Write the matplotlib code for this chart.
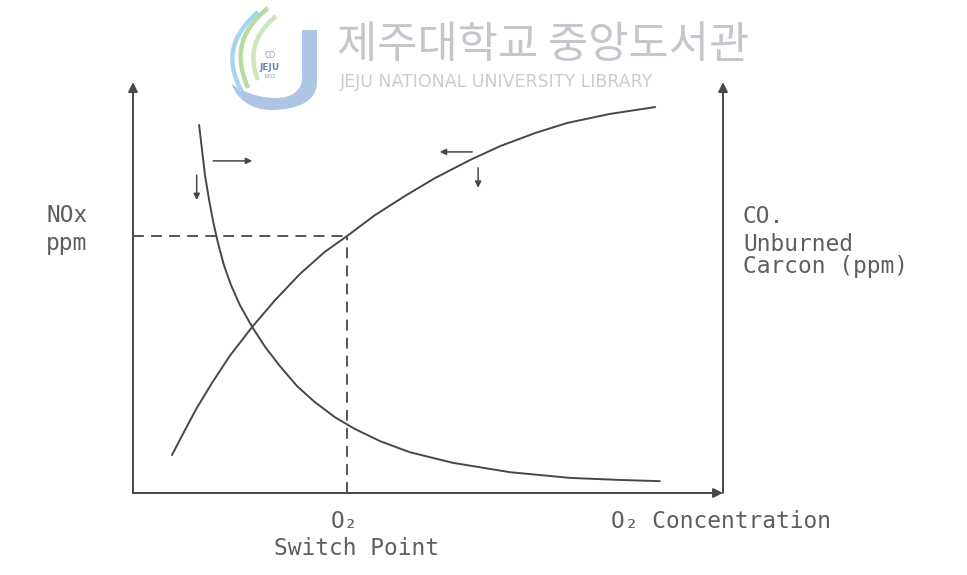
"""Sketch of NOx / CO trade-off against O2 with the O2 switch point."""

import matplotlib

matplotlib.use("Agg")
import matplotlib.pyplot as plt
from matplotlib.patches import PathPatch
from matplotlib.path import Path

W, H = 967, 575

# NOx rises with O2 (axis units, 0..10 on both scales)
nox_o2 = [0.66, 0.88, 1.08, 1.34, 1.64, 2.02, 2.41, 2.83, 3.25, 3.63, 4.10, 4.61,
          5.12, 5.71, 6.22, 6.81, 7.36, 8.08, 8.85]
nox_ppm = [0.93, 1.54, 2.08, 2.70, 3.36, 4.07, 4.73, 5.37, 5.91, 6.30, 6.81, 7.28,
           7.72, 8.16, 8.50, 8.82, 9.07, 9.29, 9.46]

# CO / unburned carbon falls with O2
co_o2 = [1.12, 1.17, 1.22, 1.29, 1.36, 1.44, 1.54, 1.66, 1.81, 2.02, 2.24, 2.49,
         2.78, 3.08, 3.42, 3.76, 4.19, 4.69, 5.42, 6.39, 7.41, 8.25, 8.93]
co_ppm = [9.02, 8.41, 7.79, 7.18, 6.64, 6.13, 5.59, 5.10, 4.61, 4.07, 3.58, 3.11,
          2.62, 2.23, 1.86, 1.57, 1.27, 1.00, 0.74, 0.51, 0.37, 0.32, 0.29]

switch_o2 = 3.63
switch_nox = 6.30

# little direction arrows drawn next to the curves: (x0, y0, x1, y1)
hint_arrows = [
    (1.36, 8.14, 2.02, 8.14),
    (1.08, 7.79, 1.08, 7.18),
    (5.75, 8.36, 5.20, 8.36),
    (5.85, 7.97, 5.85, 7.48),
]

INK = "#474747"
TEXT = "#5e5e5e"
MONO = ["DejaVu Sans Mono", "DejaVu Sans"]


def px(x, y):
    return x / W, 1 - y / H


def draw_logo(fig):
    lay = fig.add_axes([0, 0, 1, 1], zorder=-1)
    lay.set_xlim(0, W)
    lay.set_ylim(H, 0)
    lay.axis("off")
    blue = Path(
        [(302, 30), (317, 30), (317, 82), (317, 104), (292, 110), (272, 110),
         (250, 110), (236, 98), (232, 84), (246, 94), (262, 98), (276, 98),
         (292, 98), (302, 90), (302, 78), (302, 30)],
        [Path.MOVETO, Path.LINETO, Path.LINETO, Path.CURVE4, Path.CURVE4, Path.CURVE4,
         Path.CURVE4, Path.CURVE4, Path.CURVE4, Path.CURVE4, Path.CURVE4, Path.CURVE4,
         Path.CURVE4, Path.CURVE4, Path.CURVE4, Path.CLOSEPOLY],
    )
    lay.add_patch(PathPatch(blue, fc="#aec6e6", ec="none"))
    for pts, col in [
        ([(268, 8), (236, 34), (236, 60), (248, 88)], "#b9dba0"),
        ([(258, 12), (226, 40), (228, 66), (242, 92)], "#a6d6ef"),
        ([(276, 16), (250, 38), (250, 60), (258, 80)], "#cfe6bd"),
    ]:
        path = Path(pts, [Path.MOVETO, Path.CURVE4, Path.CURVE4, Path.CURVE4])
        lay.add_patch(PathPatch(path, fc="none", ec=col, lw=3.2))
    lay.text(270, 55, "CO", ha="center", va="center", fontsize=5.5, color="#8aa0c4")
    lay.text(270, 67, "JEJU", ha="center", va="center", fontsize=6.5,
             fontweight="bold", color="#6f86b0")
    lay.text(270, 77, "1952", ha="center", va="center", fontsize=3.5, color="#8aa0c4")
    lay.text(337, 45, "제주대학교 중앙도서관", ha="left", va="center", fontsize=31.5,
             color="#c3c6cb", family=["Noto Sans CJK KR", "DejaVu Sans"])
    lay.text(340, 82, "JEJU NATIONAL UNIVERSITY LIBRARY", ha="left", va="center",
             fontsize=12.5, color="#c9ccd0")


def main():
    fig = plt.figure(figsize=(W / 100, H / 100), dpi=100)
    draw_logo(fig)

    ax = fig.add_axes([133 / W, (H - 493) / H, 590 / W, 408 / H])
    ax.set_xlim(0, 10)
    ax.set_ylim(0, 10)
    ax.axis("off")

    axis_style = dict(arrowstyle="-|>", color=INK, lw=1.4, shrinkA=0, shrinkB=0,
                      mutation_scale=14)
    ax.annotate("", xy=(0, 10.07), xytext=(0, 0), arrowprops=axis_style,
                annotation_clip=False)
    ax.annotate("", xy=(10, 10.07), xytext=(10, 0), arrowprops=axis_style,
                annotation_clip=False)
    ax.annotate("", xy=(10, 0), xytext=(0, 0), arrowprops=axis_style,
                annotation_clip=False)

    ax.plot(nox_o2, nox_ppm, color=INK, lw=1.4, solid_capstyle="round",
            solid_joinstyle="round")
    ax.plot(co_o2, co_ppm, color=INK, lw=1.4, solid_capstyle="round",
            solid_joinstyle="round")

    ax.plot([0, switch_o2], [switch_nox, switch_nox], color=INK, lw=1.3, dashes=(6, 4))
    ax.plot([switch_o2, switch_o2], [0, switch_nox], color=INK, lw=1.3, dashes=(6, 4))

    for x0, y0, x1, y1 in hint_arrows:
        ax.annotate("", xy=(x1, y1), xytext=(x0, y0),
                    arrowprops=dict(arrowstyle="-|>", color=INK, lw=1.1,
                                    shrinkA=0, shrinkB=0, mutation_scale=9))

    def label(x, y, s, ha="left"):
        fig.text(*px(x, y), s, ha=ha, va="baseline", fontsize=16.5,
                 color=TEXT, family=MONO)

    label(46, 222, "NOx")
    label(46, 250, "ppm")
    label(743, 223, "CO.")
    label(743, 251, "Unburned")
    label(743, 273, "Carcon (ppm)")
    label(345, 528, "O₂", ha="center")
    label(357, 555, "Switch Point", ha="center")
    label(721, 528, "O₂ Concentration", ha="center")

    fig.savefig("out.png", dpi=100, facecolor="white")
    plt.close(fig)


if __name__ == "__main__":
    main()
